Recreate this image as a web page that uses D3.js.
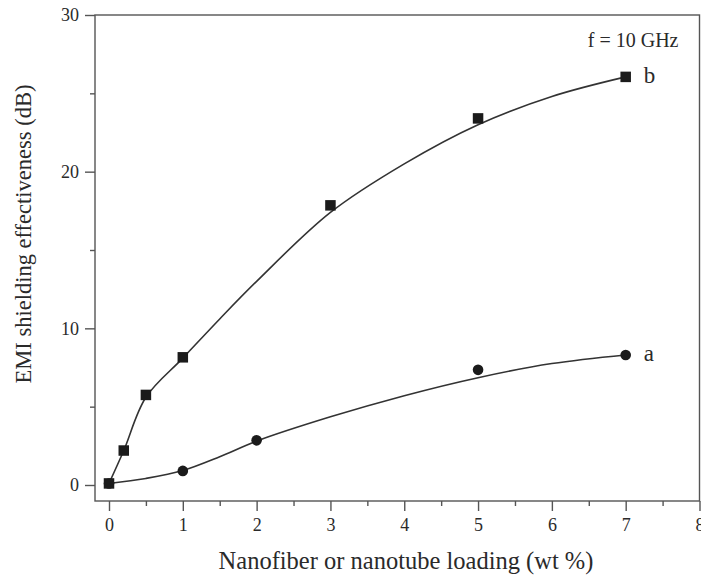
<!DOCTYPE html>
<html>
<head>
<meta charset="utf-8">
<script src="https://cdn.jsdelivr.net/npm/d3@7"></script>
<style>
  html, body { margin: 0; padding: 0; background: #fff; }
  svg { display: block; }
  text { font-family: "Liberation Serif", "Times New Roman", serif; fill: #2a2a2a; }
</style>
</head>
<body>
<svg id="chart" width="701" height="579"></svg>
<script>
// Measured shielding effectiveness (dB) versus filler loading (wt %)
const loadingA = [0, 1, 2, 5, 7];
const seA = [0.1, 0.9, 2.85, 7.35, 8.3];
const loadingB = [0, 0.2, 0.5, 1, 3, 5, 7];
const seB = [0.1, 2.2, 5.75, 8.15, 17.85, 23.4, 26.05];

// Fitted trend curves
const fitXA = [0, 0.5, 1, 1.5, 2, 3, 4, 5, 6, 7];
const fitYA = [0.1, 0.42, 0.92, 1.8, 2.8, 4.35, 5.7, 6.85, 7.75, 8.3];
const fitXB = [0, 0.2, 0.5, 1, 1.5, 2, 3, 4, 5, 6, 7];
const fitYB = [0.1, 2.2, 5.6, 8.1, 10.6, 13.0, 17.4, 20.5, 23.0, 24.8, 26.05];

const xTicks = [0, 1, 2, 3, 4, 5, 6, 7, 8];
const xMinorTicks = [0.5, 1.5, 2.5, 3.5, 4.5, 5.5, 6.5, 7.5];
const yTicks = [0, 10, 20, 30];
const yMinorTicks = [5, 15, 25];

const xTitle = "Nanofiber or nanotube loading (wt %)";
const yTitle = "EMI shielding effectiveness (dB)";
const freqNote = "f = 10 GHz";
const seriesNames = ["a", "b"];

// Layout
const serif = '"Liberation Serif", "Times New Roman", serif';
const frame = { left: 95, right: 699.5, top: 15, bottom: 501 };
const x = d3.scaleLinear().domain([0, 8]).range([109, 699.5]);
const y = d3.scaleLinear().domain([0, 30]).range([485, 15]);

const svg = d3.select("#chart");
const axisColor = "#555";

// Plot frame
svg.append("rect")
  .attr("x", frame.left).attr("y", frame.top)
  .attr("width", frame.right - frame.left)
  .attr("height", frame.bottom - frame.top)
  .attr("fill", "none").attr("stroke", axisColor).attr("stroke-width", 1.4);

function styleAxis(g) {
  g.attr("font-family", serif).attr("font-size", 18);
  g.select(".domain").remove();
  g.selectAll(".tick line").attr("stroke", axisColor).attr("stroke-width", 1.4);
  g.selectAll(".tick text").attr("fill", "#2a2a2a");
}

// Bottom axis
svg.append("g").attr("transform", `translate(0,${frame.bottom})`)
  .call(d3.axisBottom(x).tickValues(xTicks).tickSize(10).tickPadding(7).tickFormat(d3.format("d")))
  .call(styleAxis);
svg.append("g").attr("transform", `translate(0,${frame.bottom})`)
  .call(d3.axisBottom(x).tickValues(xMinorTicks).tickSize(5).tickFormat(""))
  .call(styleAxis);

// Left axis
svg.append("g").attr("transform", `translate(${frame.left},0)`)
  .call(d3.axisLeft(y).tickValues(yTicks).tickSize(10).tickPadding(6).tickFormat(d3.format("d")))
  .call(styleAxis);
svg.append("g").attr("transform", `translate(${frame.left},0)`)
  .call(d3.axisLeft(y).tickValues(yMinorTicks).tickSize(5).tickFormat(""))
  .call(styleAxis);

// Axis titles
svg.append("text")
  .attr("x", 406).attr("y", 569)
  .attr("text-anchor", "middle").style("font-size", "24.5px")
  .text(xTitle);

svg.append("text")
  .attr("transform", `translate(31,${(85 + 383) / 2}) rotate(-90)`)
  .attr("text-anchor", "middle").style("font-size", "22.5px")
  .text(yTitle);

// Fitted curves
const line = d3.line()
  .x(d => x(d[0])).y(d => y(d[1]))
  .curve(d3.curveCatmullRom.alpha(0.5));

const fits = [d3.zip(fitXA, fitYA), d3.zip(fitXB, fitYB)];
svg.selectAll("path.fit").data(fits).join("path")
  .attr("class", "fit")
  .attr("d", line)
  .attr("fill", "none").attr("stroke", "#333").attr("stroke-width", 1.6);

// Series a: circles
svg.selectAll("circle.a").data(d3.zip(loadingA, seA)).join("circle")
  .attr("class", "a")
  .attr("cx", d => x(d[0])).attr("cy", d => y(d[1]))
  .attr("r", 5.3).attr("fill", "#1b1b1b");

// Series b: squares
const sq = 10.5;
svg.selectAll("rect.b").data(d3.zip(loadingB, seB)).join("rect")
  .attr("class", "b")
  .attr("x", d => x(d[0]) - sq / 2).attr("y", d => y(d[1]) - sq / 2)
  .attr("width", sq).attr("height", sq).attr("fill", "#1b1b1b");

// Series labels at the last point
const ends = [[loadingA[loadingA.length - 1], seA[seA.length - 1]],
              [loadingB[loadingB.length - 1], seB[seB.length - 1]]];
svg.selectAll("text.series").data(ends).join("text")
  .attr("class", "series")
  .attr("x", d => x(d[0]) + 18).attr("y", d => y(d[1]) + 6)
  .style("font-size", "23px")
  .text((d, i) => seriesNames[i]);

// Frequency note
svg.append("text")
  .attr("x", frame.right - 21).attr("y", 47)
  .attr("text-anchor", "end").style("font-size", "20px")
  .text(freqNote);
</script>
</body>
</html>
